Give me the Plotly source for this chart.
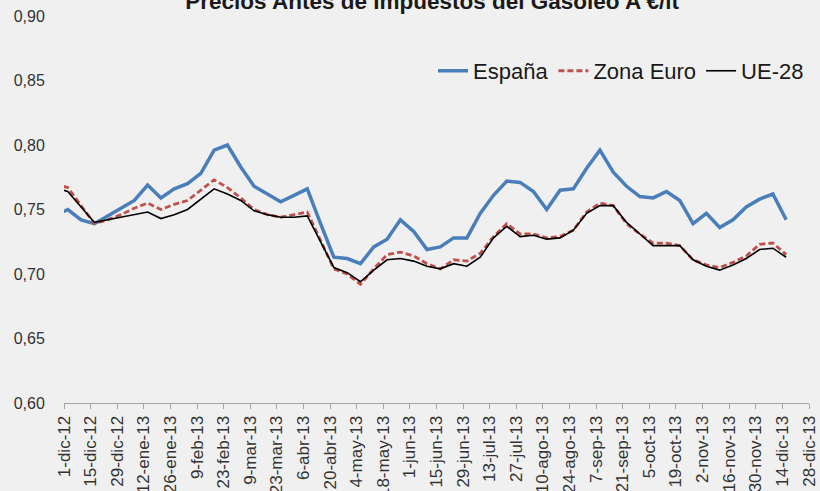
"""
Precios antes de impuestos del Gasóleo A (€/lt)
España vs Zona Euro vs UE-28, semanal dic-2012 a dic-2013
"""

import pandas as pd
import plotly.graph_objects as go

# fechas semanales (lunes), la primera queda fuera del eje y se recorta
fechas = pd.date_range("2012-11-26", periods=56, freq="7D")

espana = [
    0.745, 0.750, 0.742, 0.739, 0.745, 0.751, 0.757, 0.769, 0.759, 0.766,
    0.770, 0.778, 0.796, 0.800, 0.783, 0.768, 0.762, 0.756, 0.761, 0.766,
    0.739, 0.713, 0.712, 0.708, 0.721, 0.727, 0.742, 0.733, 0.719, 0.721,
    0.728, 0.728, 0.747, 0.761, 0.772, 0.771, 0.764, 0.750, 0.765, 0.766,
    0.782, 0.796, 0.779, 0.768, 0.760, 0.759, 0.764, 0.757, 0.739, 0.747,
    0.736, 0.742, 0.752, 0.758, 0.762, 0.742,
]

zona_euro = [
    0.770, 0.767, 0.753, 0.739, 0.742, 0.746, 0.751, 0.755, 0.750, 0.754,
    0.757, 0.765, 0.773, 0.767, 0.759, 0.750, 0.746, 0.744, 0.746, 0.748,
    0.726, 0.704, 0.700, 0.692, 0.704, 0.715, 0.717, 0.714, 0.708, 0.704,
    0.711, 0.710, 0.716, 0.729, 0.739, 0.731, 0.731, 0.728, 0.729, 0.734,
    0.748, 0.755, 0.753, 0.739, 0.731, 0.724, 0.724, 0.722, 0.711, 0.707,
    0.705, 0.709, 0.714, 0.723, 0.724, 0.715,
]

ue28 = [
    0.767, 0.764, 0.752, 0.740, 0.742, 0.744, 0.746, 0.748, 0.743, 0.746,
    0.750, 0.758, 0.766, 0.762, 0.757, 0.749, 0.746, 0.744, 0.744, 0.745,
    0.725, 0.705, 0.701, 0.694, 0.703, 0.711, 0.712, 0.710, 0.706, 0.704,
    0.708, 0.706, 0.713, 0.728, 0.737, 0.729, 0.730, 0.727, 0.728, 0.734,
    0.747, 0.753, 0.753, 0.740, 0.731, 0.722, 0.722, 0.722, 0.711, 0.706,
    0.703, 0.707, 0.712, 0.719, 0.720, 0.713,
]

etiquetas_x = [
    "1-dic-12", "15-dic-12", "29-dic-12", "12-ene-13", "26-ene-13", "9-feb-13",
    "23-feb-13", "9-mar-13", "23-mar-13", "6-abr-13", "20-abr-13", "4-may-13",
    "18-may-13", "1-jun-13", "15-jun-13", "29-jun-13", "13-jul-13", "27-jul-13",
    "10-ago-13", "24-ago-13", "7-sep-13", "21-sep-13", "5-oct-13", "19-oct-13",
    "2-nov-13", "16-nov-13", "30-nov-13", "14-dic-13", "28-dic-13",
]
ticks_x = pd.date_range("2012-12-01", periods=len(etiquetas_x), freq="14D")

fuente = "Liberation Sans, Arial, sans-serif"

fig = go.Figure()

fig.add_trace(go.Scatter(
    x=fechas, y=espana, name="España", mode="lines",
    line=dict(color="#4a7ebb", width=3.5),
))
fig.add_trace(go.Scatter(
    x=fechas, y=zona_euro, name="Zona Euro", mode="lines",
    line=dict(color="#c0504d", width=2.8, dash="6px,3px"),
))
fig.add_trace(go.Scatter(
    x=fechas, y=ue28, name="UE-28", mode="lines",
    line=dict(color="#000000", width=1.6),
))

fig.update_layout(
    width=820, height=491,
    margin=dict(l=64, r=11, t=16, b=88),
    paper_bgcolor="#f0f0f0",
    plot_bgcolor="#f0f0f0",
    separators=",.",
    title=dict(
        text="<b>Precios Antes de Impuestos del Gasoleo A €/lt</b>",
        font=dict(family=fuente, size=22.5, color="#1a1a1a"),
        x=0.527, xanchor="center",
        yref="container", y=0.998, yanchor="middle",
    ),
    legend=dict(
        orientation="h",
        x=1.0, xanchor="right",
        y=0.858, yanchor="middle",
        bgcolor="rgba(0,0,0,0)",
        font=dict(family=fuente, size=22, color="#1a1a1a"),
        itemwidth=30,
        tracegroupgap=0,
    ),
    showlegend=True,
)

fig.update_xaxes(
    type="date",
    range=["2012-12-01", "2013-12-28"],
    tickvals=ticks_x,
    ticktext=etiquetas_x,
    tickangle=-90,
    tickfont=dict(family=fuente, size=17, color="#333333"),
    showgrid=False,
    zeroline=False,
    showline=True,
    linecolor="#a6a6a6",
    linewidth=1,
    ticks="outside",
    ticklen=5,
    tickcolor="#a6a6a6",
    automargin=False,
)

fig.update_yaxes(
    range=[0.60, 0.90],
    tickvals=[0.60, 0.65, 0.70, 0.75, 0.80, 0.85, 0.90],
    tickformat=".2f",
    tickfont=dict(family=fuente, size=16, color="#333333"),
    showgrid=False,
    zeroline=False,
    showline=False,
    ticks="outside",
    ticklen=15,
    tickcolor="rgba(0,0,0,0)",
    automargin=False,
)

# quitar el margen por defecto del body para que la figura empiece en (0, 0)
fig.write_html(
    "out.html",
    config={"displayModeBar": False},
    post_script="document.body.style.margin='0';",
)
